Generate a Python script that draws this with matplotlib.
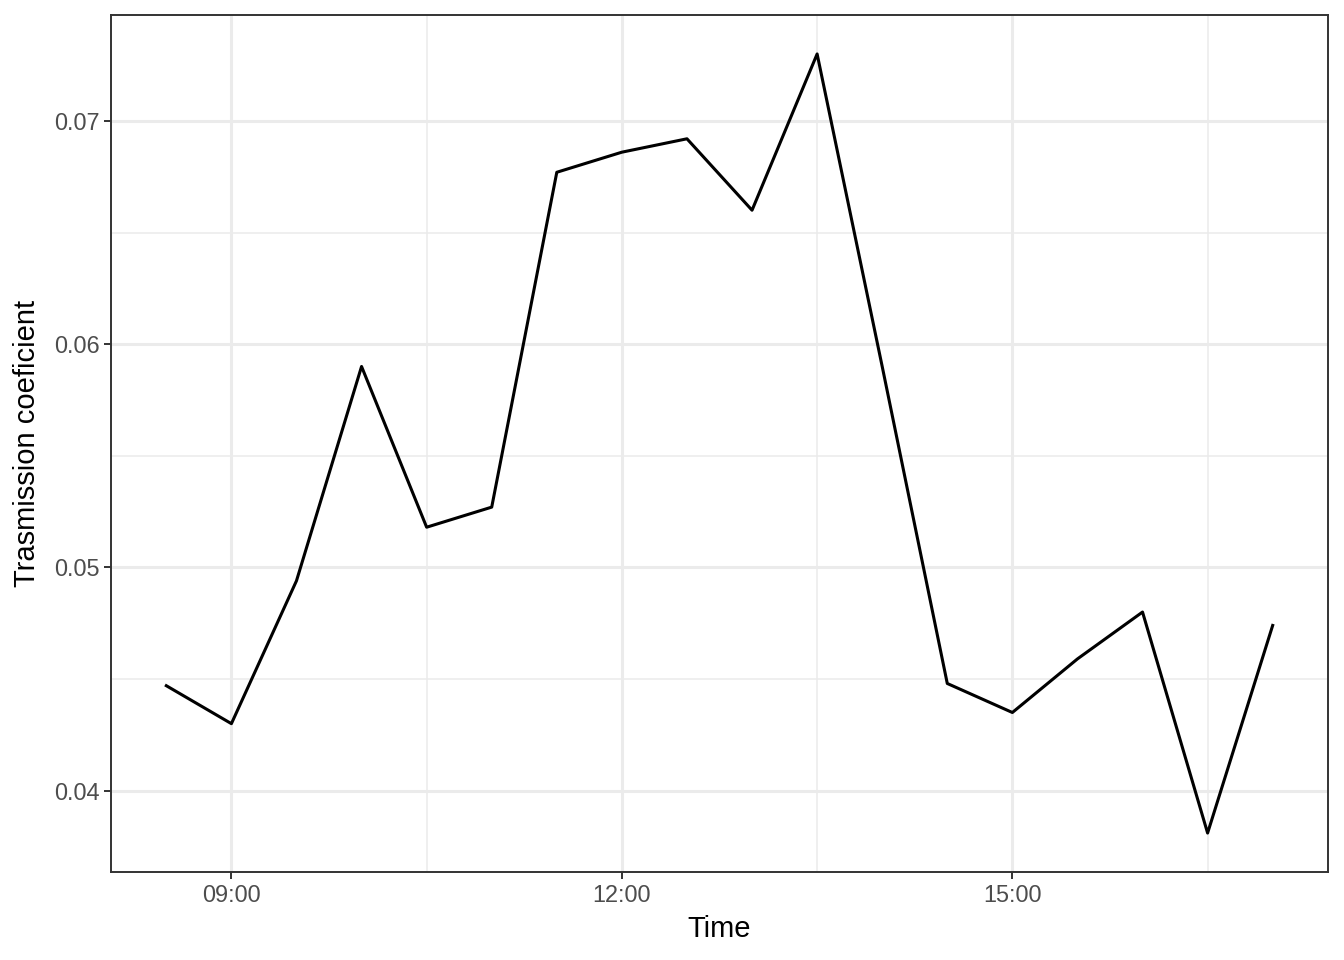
import pandas as pd
import numpy as np
import matplotlib.pyplot as plt
import matplotlib.dates as mdates
from matplotlib.ticker import MultipleLocator, FixedLocator

# half-hourly readings
times = ["08:30", "09:00", "09:30", "10:00", "10:30", "11:00", "11:30", "12:00", "12:30",
         "13:00", "13:30", "14:00", "14:30", "15:00", "15:30", "16:00", "16:30", "17:00"]
coef = [0.0447, 0.0430, 0.0494, 0.0590, 0.0518, 0.0527, 0.0677, 0.0686, 0.0692,
        0.0660, 0.0730, 0.0590, 0.0448, 0.0435, 0.0459, 0.0480, 0.0381, 0.0474]

t = pd.to_datetime(["2020-01-01 " + s for s in times])

plt.rcParams['font.family'] = ['Liberation Sans', 'DejaVu Sans']

fig = plt.figure(figsize=(13.44, 9.6), dpi=100, facecolor='w')
ax = fig.add_axes([111 / 1344, 1 - 872 / 960, (1328 - 111) / 1344, (872 - 15) / 960])

ax.plot(t, coef, color='black', lw=2.2, zorder=3)

# ggplot-like expansion (5%)
span = t[-1] - t[0]
ax.set_xlim(t[0] - span * 0.05, t[-1] + span * 0.05)
yr = max(coef) - min(coef)
ax.set_ylim(min(coef) - yr * 0.05, max(coef) + yr * 0.05)

ax.xaxis.set_major_locator(mdates.HourLocator(byhour=[9, 12, 15]))
ax.xaxis.set_major_formatter(mdates.DateFormatter('%H:%M'))
# minor x grid at 10:30, 13:30, 16:30
minor_x = pd.to_datetime(["2020-01-01 10:30", "2020-01-01 13:30", "2020-01-01 16:30"])
ax.xaxis.set_minor_locator(FixedLocator(mdates.date2num(minor_x)))

ax.yaxis.set_major_locator(MultipleLocator(0.01))
ax.yaxis.set_minor_locator(MultipleLocator(0.005))
ax.yaxis.set_major_formatter(plt.FuncFormatter(lambda v, p: '%.2f' % v))

ax.grid(True, which='major', color='#EBEBEB', lw=2.2, zorder=0)
ax.grid(True, which='minor', color='#EBEBEB', lw=1.1, zorder=0)
ax.set_axisbelow(True)

ax.tick_params(which='minor', length=0)
ax.tick_params(which='major', length=5.3, width=1.4, color='#333333',
               labelsize=16.9, labelcolor='#4D4D4D', pad=3)
for sp in ax.spines.values():
    sp.set_color('#333333')
    sp.set_linewidth(1.4)

ax.set_xlabel("Time", fontsize=21, color='black', labelpad=6)
ax.set_ylabel("Trasmission coeficient", fontsize=21, color='black', labelpad=9)

plt.savefig("out.png", dpi=100, facecolor='w')
